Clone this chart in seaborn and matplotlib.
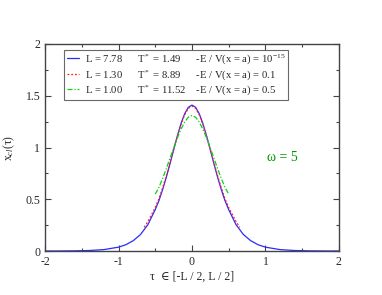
import numpy as np
import pandas as pd
import seaborn as sns
import matplotlib
matplotlib.use('Agg')
import matplotlib.pyplot as plt
from matplotlib.lines import Line2D
from matplotlib.ticker import MultipleLocator

# blue curve, L = 7.78
x_blue = [-2.0, -1.8, -1.6, -1.4, -1.2, -1.0, -0.9, -0.8, -0.7, -0.6, -0.5, -0.45, -0.4, -0.35,
          -0.3, -0.25, -0.2, -0.15, -0.1, -0.05, 0.0, 0.05, 0.1, 0.15, 0.2, 0.25, 0.3, 0.35,
          0.4, 0.45, 0.5, 0.6, 0.7, 0.8, 0.9, 1.0, 1.2, 1.4, 1.6, 1.8, 2.0]
y_blue = [0.0003, 0.0007, 0.0019, 0.0051, 0.0139, 0.0375, 0.061, 0.10, 0.16, 0.255, 0.40, 0.486,
          0.592, 0.711, 0.841, 0.976, 1.109, 1.229, 1.325, 1.388, 1.41, 1.388, 1.325, 1.229,
          1.109, 0.976, 0.841, 0.711, 0.592, 0.486, 0.40, 0.255, 0.16, 0.10, 0.061, 0.0375,
          0.0139, 0.0051, 0.0019, 0.0007, 0.0003]

# red curve, L = 1.30
x_red = [-0.65, -0.6, -0.5, -0.45, -0.4, -0.35, -0.3, -0.25, -0.2, -0.15, -0.1, -0.05, 0.0,
         0.05, 0.1, 0.15, 0.2, 0.25, 0.3, 0.35, 0.4, 0.45, 0.5, 0.6, 0.65]
y_red = [0.23, 0.285, 0.42, 0.505, 0.61, 0.725, 0.85, 0.98, 1.105, 1.22, 1.315, 1.378, 1.40,
         1.378, 1.315, 1.22, 1.105, 0.98, 0.85, 0.725, 0.61, 0.505, 0.42, 0.285, 0.23]

# green curve, L = 1.00
x_green = [-0.5, -0.45, -0.4, -0.35, -0.3, -0.25, -0.2, -0.15, -0.1, -0.05, 0.0,
           0.05, 0.1, 0.15, 0.2, 0.25, 0.3, 0.35, 0.4, 0.45, 0.5]
y_green = [0.55, 0.615, 0.70, 0.795, 0.895, 0.995, 1.09, 1.175, 1.245, 1.292, 1.31,
           1.292, 1.245, 1.175, 1.09, 0.995, 0.895, 0.795, 0.70, 0.615, 0.55]

L_vals = ['7.78', '1.30', '1.00']
T_vals = ['1.49\u2007', '8.89\u2007', '11.52']
E_vals = ['10$^{-15}$', '0.1', '0.5']

colors = ['#2a2aff', '#ff2020', '#10d010']
styles = ['-', (0, (1.5, 1.5)), (0, (4, 1.5, 1, 1.5))]

sns.set_style('ticks')
plt.rcParams['font.family'] = ['Liberation Serif', 'DejaVu Serif']
plt.rcParams['mathtext.fontset'] = 'custom'
plt.rcParams['mathtext.rm'] = 'Liberation Serif'
plt.rcParams['mathtext.it'] = 'Liberation Serif:italic'
plt.rcParams['axes.unicode_minus'] = False

fig = plt.figure(figsize=(3.82, 2.95), dpi=100)
ax = fig.add_axes([0.118, 0.149, 0.769, 0.702])

labels = ['L = %s      T$^*$ = %s    -E / V(x = a) = %s' % (l, t, e)
          for l, t, e in zip(L_vals, T_vals, E_vals)]

for xs, ys, c, ls in zip([x_blue, x_red, x_green], [y_blue, y_red, y_green], colors, styles):
    sns.lineplot(x=xs, y=ys, ax=ax, color=c, lw=0.9, linestyle=ls,
                 sort=False, estimator=None)

ax.set_xlim(-2, 2)
ax.set_ylim(0, 2)
ax.xaxis.set_major_locator(MultipleLocator(1))
ax.xaxis.set_minor_locator(MultipleLocator(0.5))
ax.yaxis.set_major_locator(MultipleLocator(0.5))
ax.yaxis.set_minor_locator(MultipleLocator(0.25))
ax.xaxis.set_major_formatter(plt.FuncFormatter(lambda v, p: '%g' % v))
ax.yaxis.set_major_formatter(plt.FuncFormatter(lambda v, p: '%g' % v))
ax.tick_params(which='both', direction='in', top=True, right=True, labelsize=8.5,
               width=0.8, color='#444444')
ax.tick_params(which='major', length=4)
ax.tick_params(which='minor', length=2)
for s in ax.spines.values():
    s.set_linewidth(1.0)
    s.set_color('#444444')

ax.set_xlabel('τ  ∈ [-L / 2, L / 2]', fontsize=8.5, labelpad=2)
ax.set_ylabel('x$_{cl}$(τ)', fontsize=8.5, labelpad=6)
ax.text(1.02, 0.87, 'ω = 5', color='#009900', fontsize=10)

handles = [Line2D([], [], color=c, lw=0.9, linestyle=ls) for c, ls in zip(colors, styles)]
leg = ax.legend(handles, labels, loc='upper left', bbox_to_anchor=(0.065, 0.972),
                fontsize=7.7, frameon=True, fancybox=False, edgecolor='#444444',
                handlelength=1.1, handletextpad=0.6, borderpad=0.25, labelspacing=0.15,
                borderaxespad=0)
leg.get_frame().set_linewidth(0.8)

fig.savefig('out.png', dpi=100)
